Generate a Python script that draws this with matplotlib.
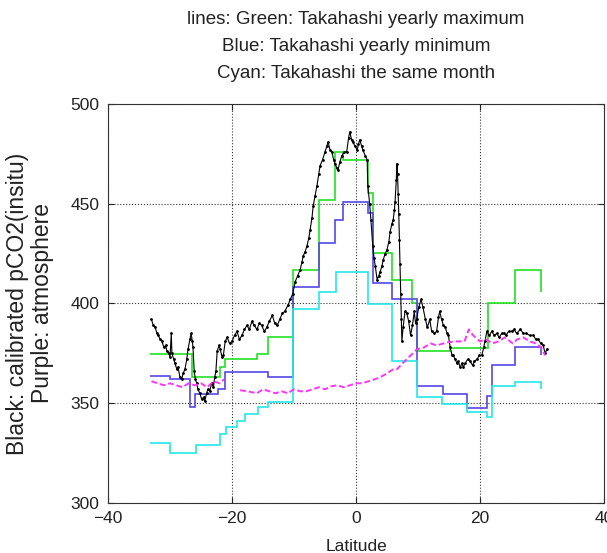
import matplotlib.pyplot as plt

plt.rcParams['font.family'] = ['Liberation Sans', 'DejaVu Sans']

# Takahashi step climatologies (edges in latitude, values in uatm)
green_edges = [-33.2, -26.5, -21.9, -21.1, -16, -14.2, -10.2, -6, -3.4, -2.1,
               1.9, 2.7, 5.8, 9, 9.9, 15.2, 21.3, 25.6, 29.8, 29.9]
green_vals = [374.5, 363, 368, 372, 374.5, 383, 417, 452, 476, 472,
              455.5, 425.5, 412, 400, 376, 377.5, 400, 417, 406]

blue_edges = [-33.2, -30, -26.8, -26, -22.3, -21.1, -14.2, -10.2, -6, -3.4,
              -2.1, 1.9, 2.7, 5.8, 9.9, 14, 17.9, 21.1, 22, 25.6, 29.8, 29.9]
blue_vals = [363.5, 362, 348, 354.5, 357, 365.5, 363, 408.5, 430.5, 442,
             451, 445.5, 410.5, 402, 358.5, 354.5, 347.5, 353.5, 369, 378, 374]

cyan_edges = [-33.2, -30, -25.8, -22, -21, -19.2, -17.9, -15.8, -14.2, -10.2,
              -6, -3.2, 1.9, 5.8, 9.9, 13.9, 17.9, 21.1, 22, 25.6, 29.8, 29.9]
cyan_vals = [330, 325, 329, 334.5, 338, 341, 344.5, 348, 350.5, 397,
             406, 416, 399.5, 371, 353, 349.5, 345.5, 343, 358.5, 360.5, 357]

# atmosphere (purple)
atm_lat = [-33, -32, -31, -30, -29, -28, -27, -26, -25, -24, -23, -22, -21.3,
           None,
           -18.7, -17.5, -16, -15, -14, -13, -12, -11, -10, -9, -8, -7, -6, -5,
           -4, -3, -2, -1, 0, 1, 2, 3, 3.9, 5, 6, 6.6, 7.5, 8.5, 9.8, 11, 12,
           13, 14.7, 16, 17.5, 18.2, 18.9, 20, 21, 22, 23, 24, 25.3, 26, 27,
           28, 29, 29.7, 30.2, 30.5]
atm_co2 = [361, 360, 359, 360, 359, 358, 360, 359, 360, 358, 361, 360, 362,
           None,
           356.5, 356, 355, 357, 356, 355, 356, 355, 357, 356, 356, 357, 358,
           357, 358.5, 359, 358, 359, 360, 360, 361, 362, 363, 365, 367, 367,
           370, 373, 377, 378, 380, 379, 380.5, 381, 381, 387, 384, 381, 382,
           380, 381, 383, 380, 382, 383, 381, 380, 378.5, 376, 374]

# calibrated pCO2 insitu (black)
obs_lat = [-33.0, -32.7, -32.4, -32.1, -31.9, -31.6, -31.3, -31.0, -30.7, -30.5,
           -30.2, -30.0, -29.8, -29.7, -29.4, -29.2, -28.9, -28.7, -28.4, -28.1,
           -27.9, -27.6, -27.3, -27.1, -26.8, -26.6, -26.4, -26.3, -26.1, -25.9,
           -25.7, -25.5, -25.2, -24.9, -24.6, -24.4, -24.1, -23.9, -23.6, -23.3,
           -23.0, -22.8, -22.6, -22.4, -22.1, -21.9, -21.6, -21.4, -21.1, -20.8,
           -20.4, -20.0, -19.6, -19.2, -18.8, -18.4, -18.0, -17.6, -17.2, -16.8,
           -16.4, -16.0, -15.6, -15.2, -14.8, -14.4, -14.0, -13.5, -13.1, -12.7,
           -12.3, -11.9, -11.5, -11.0, -10.6, -10.2, -9.8, -9.4, -9.0, -8.7,
           -8.5, -8.2, -7.9, -7.6, -7.4, -7.1, -6.9, -6.6, -6.3, -6.0,
           -5.8, -5.4, -5.0, -4.7, -4.5, -4.2, -3.9, -3.6, -3.4, -3.1,
           -2.9, -2.6, -2.3, -1.9, -1.5, -1.2, -1.0, -0.7, -0.5, -0.2,
           0.2, 0.4, 0.6, 0.9, 1.1, 1.5, 1.8, 1.9, 2.2, 2.4,
           2.7, 2.9, 3.1, 3.4, 3.7, 3.9, 4.2, 4.4, 4.7, 5.0,
           5.3, 5.5, 5.8, 6.0, 6.2, 6.3, 6.5, 6.6, 6.7, 6.8,
           6.9, 7.0, 7.1, 7.2, 7.3, 7.4, 7.6, 7.9, 8.2, 8.5,
           8.8, 9.1, 9.4, 9.6, 9.8, 10.1, 10.5, 10.8, 11.2, 11.5,
           11.9, 12.2, 12.6, 13.0, 13.3, 13.5, 13.8, 14.1, 14.4, 14.7,
           14.9, 15.2, 15.5, 15.7, 16.0, 16.3, 16.5, 16.8, 17.1, 17.3,
           17.6, 18.0, 18.4, 18.8, 19.1, 19.5, 19.9, 20.3, 20.6, 20.8,
           21.1, 21.5, 21.9, 22.3, 22.7, 23.1, 23.5, 23.8, 24.2, 24.6,
           25.1, 25.5, 25.9, 26.5, 27.0, 27.5, 28.0, 28.6, 29.0, 29.4,
           29.8, 30.2, 30.5, 30.8]
obs_co2 = [392, 389, 388, 385, 384, 382, 381, 378, 379, 376,
           375, 373, 385, 375, 372, 370, 367, 368, 363, 362,
           365, 367, 372, 377, 382, 385, 381, 378, 366, 362,
           360, 357, 355, 352, 353, 351, 355, 357, 356, 360,
           358, 363, 366, 376, 379, 377, 373, 374, 381, 383,
           380, 381, 384, 386, 382, 384, 387, 389, 387, 391,
           389, 387, 390, 389, 386, 388, 391, 394, 390, 389,
           392, 395, 396, 399, 402, 405, 411, 414, 417, 421,
           424, 426, 429, 433, 437, 443, 449, 454, 459, 465,
           469, 472, 476, 479, 481, 477, 476, 472, 470, 468,
           467, 471, 474, 476, 476, 483, 486, 482, 481, 479,
           477, 480, 482, 479, 477, 474, 472, 459, 450, 442,
           429, 423, 419, 412, 414, 416, 419, 422, 425, 427,
           431, 436, 440, 442, 447, 451, 462, 470, 465, 455,
           445, 432, 420, 405, 392, 381, 388, 396, 395, 391,
           384, 389, 396, 390, 392, 398, 402, 398, 392, 388,
           392, 386, 385, 386, 393, 396, 392, 389, 388, 385,
           384, 378, 374, 374, 372, 370, 371, 368, 370, 368,
           370, 372, 371, 369, 371, 372, 374, 374, 378, 381,
           386, 384, 386, 384, 385, 383, 385, 385, 384, 386,
           386, 387, 385, 387, 385, 385, 384, 384, 382, 382,
           380, 379, 375, 377]

title_lines = ["lines: Green: Takahashi yearly maximum",
               "Blue: Takahashi yearly minimum",
               "Cyan: Takahashi the same month"]

fig = plt.figure(figsize=(6.07, 5.53), dpi=100)
ax = fig.add_axes([0.178, 0.0904, 0.817, 0.7216])

ax.plot(obs_lat, obs_co2, color='black', lw=0.8, marker='.', ms=2, zorder=3)
ax.plot([x if x is not None else float('nan') for x in atm_lat],
        [y if y is not None else float('nan') for y in atm_co2],
        color='#ff33ff', lw=1.4, ls='--', dashes=(3, 1.5), zorder=4)
ax.stairs(green_vals, green_edges, baseline=None, color='#22e022', lw=1.2, zorder=2)
ax.stairs(blue_vals, blue_edges, baseline=None, color='#5548e8', lw=1.2, zorder=2)
ax.stairs(cyan_vals, cyan_edges, baseline=None, color='#22e8e8', lw=1.2, zorder=2)

ax.set_xlim(-40, 40)
ax.set_ylim(300, 500)
ax.set_xticks([-40, -20, 0, 20, 40])
ax.set_yticks([300, 350, 400, 450, 500])
ax.grid(True, color='black', ls=':', lw=0.8, alpha=0.8)
ax.tick_params(direction='in', length=4, top=True, right=True,
               labelsize=12.5, colors='#222222', pad=6)
for s in ax.spines.values():
    s.set_color('#333333')

ax.set_title("\n".join(title_lines), fontsize=13.5, color='#222222', pad=19,
             linespacing=1.75)
ax.set_xlabel("Latitude", fontsize=12.5, color='#222222', labelpad=9)
ax.set_ylabel("Black: calibrated pCO2(insitu)\nPurple: atmosphere",
              fontsize=16.5, color='#222222', labelpad=12, linespacing=1.1)

fig.savefig("out.png", dpi=100)
